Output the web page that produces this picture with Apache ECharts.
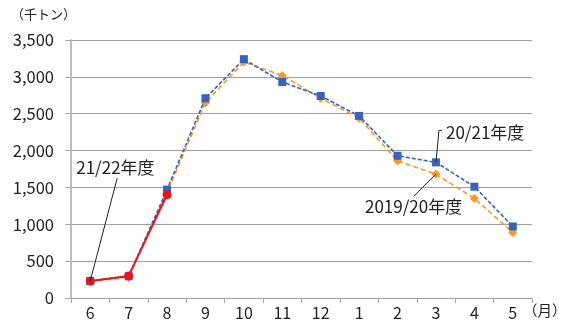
<!DOCTYPE html>
<html>
<head>
<meta charset="utf-8">
<script src="https://cdn.jsdelivr.net/npm/echarts@6/dist/echarts.min.js"></script>
<style>
html,body{margin:0;padding:0;background:#fff;}
#chart{width:564px;height:323px;}
</style>
</head>
<body>
<div id="chart"></div>
<script>
// Monthly figures (thousand tonnes), fiscal year June–May
const months = ['6','7','8','9','10','11','12','1','2','3','4','5'];
const fy2019 = [225, 280, 1430, 2650, 3200, 3020, 2710, 2440, 1860, 1680, 1350, 890];
const fy2021 = [230, 295, 1470, 2710, 3240, 2930, 2740, 2470, 1930, 1840, 1510, 970];
const fy2122 = [230, 300, 1400];
const yTicks = [0, 500, 1000, 1500, 2000, 2500, 3000, 3500];

const FONT = '"Noto Sans CJK JP", "Noto Sans", sans-serif';
const chart = echarts.init(document.getElementById('chart'), null, {renderer: 'canvas'});

const unitLabels = [
  {type: 'text', left: 11, top: 8,
   style: {text: '（千トン）', fill: '#222', font: '13px ' + FONT}},
  {type: 'text', left: 523, top: 303,
   style: {text: '（月）', fill: '#222', font: '14.5px ' + FONT}}
];

chart.setOption({
  animation: false,
  backgroundColor: '#fff',
  grid: {left: 71, right: 32, top: 40, bottom: 25},
  xAxis: {
    type: 'category',
    data: months,
    boundaryGap: true,
    axisLine: {lineStyle: {color: '#a6a6a6', width: 1}},
    axisTick: {show: true, length: 5, lineStyle: {color: '#a6a6a6'}},
    axisLabel: {color: '#222', fontSize: 16, fontFamily: FONT, margin: 7}
  },
  yAxis: {
    type: 'value',
    min: yTicks[0],
    max: yTicks[yTicks.length - 1],
    interval: 500,
    axisLine: {show: true, lineStyle: {color: '#bdbdbd', width: 2}},
    axisTick: {show: true, length: 6, lineStyle: {color: '#a6a6a6'}},
    splitLine: {lineStyle: {color: '#a0a0a0', width: 1}},
    axisLabel: {
      color: '#222', fontSize: 16.5, fontFamily: FONT, margin: 17,
      formatter: v => v.toLocaleString('en-US')
    }
  },
  series: [
    {
      name: '2019/20年度', type: 'line', data: fy2019, z: 2,
      symbol: 'diamond', symbolSize: 9,
      lineStyle: {color: '#f39a2c', width: 1.6, type: [5, 3]},
      itemStyle: {color: '#f39a2c'}
    },
    {
      name: '20/21年度', type: 'line', data: fy2021, z: 3,
      symbol: 'rect', symbolSize: 8,
      lineStyle: {color: '#3a62b8', width: 1.6, type: [4, 2]},
      itemStyle: {color: '#3a62b8'}
    },
    {
      name: '21/22年度', type: 'line', data: fy2122, z: 4,
      symbol: 'circle', symbolSize: 9,
      lineStyle: {color: '#e8141e', width: 2},
      itemStyle: {color: '#e8141e'}
    }
  ],
  graphic: unitLabels
});

// Series callouts, anchored to data points
const px = (i, v) => chart.convertToPixel({gridIndex: 0}, [i, v]);
const p22 = px(0, fy2122[0]);
const p21 = px(9, fy2021[9]);
const p19 = px(9, fy2019[9]);
const labelFont = '17px ' + FONT;
const label = (x, y, text) => ({
  type: 'text', z: 10, x: x, y: y,
  style: {text: text, fill: '#222', font: labelFont, align: 'left', verticalAlign: 'middle'}
});

chart.setOption({
  graphic: unitLabels.concat([
    // 21/22年度
    {type: 'line', z: 10, shape: {x1: p22[0], y1: p22[1], x2: p22[0] + 27, y2: p22[1] - 103},
     style: {stroke: '#222', lineWidth: 1}},
    label(p22[0] - 14, p22[1] - 113, '21/22年度'),
    // 20/21年度
    {type: 'polyline', z: 10,
     shape: {points: [[p21[0], p21[1]], [p21[0] + 3, p21[1] - 32], [p21[0] + 6, p21[1] - 32]]},
     style: {stroke: '#222', lineWidth: 1, fill: null}},
    label(p21[0] + 10, p21[1] - 30, '20/21年度'),
    // 2019/20年度
    {type: 'line', z: 10, shape: {x1: p19[0], y1: p19[1], x2: p19[0] - 22, y2: p19[1] + 22},
     style: {stroke: '#222', lineWidth: 1}},
    label(p19[0] - 71, p19[1] + 32, '2019/20年度')
  ])
});
</script>
</body>
</html>
